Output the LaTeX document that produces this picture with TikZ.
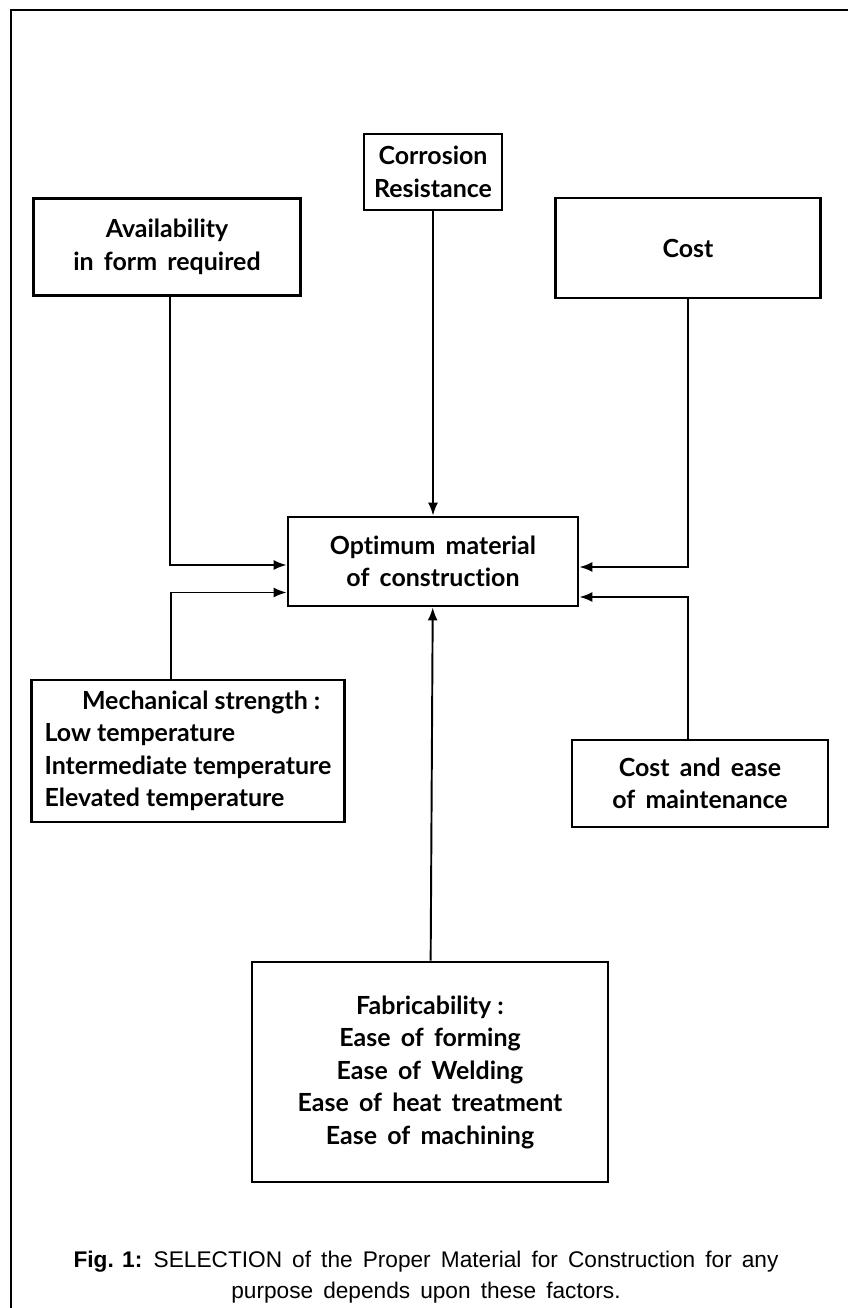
\documentclass[tikz,border=0pt]{standalone}
\usepackage{fontspec}
\usetikzlibrary{arrows.meta}
\newfontfamily\boxfont{Lato}[Ligatures={NoCommon}]
\newfontfamily\capfont{Liberation Sans}

\begin{document}
\begin{tikzpicture}[x=0.02cm,y=-0.02cm,
        box/.style={draw, line width=1.6pt, inner sep=0pt, align=center,
          font=\boxfont\bfseries\fontsize{14.2}{18.5}\selectfont},
        arr/.style={line width=1.1pt, -{Latex[length=0.26cm,width=0.2cm]}}]
        \useasboundingbox (0,0) rectangle (848,1308);
        % frame
        \draw [line width=1.5pt] (11,1308) -- (11,10) -- (848,10);
        % factors
        \node [box, minimum width=2.76cm, minimum height=1.52cm] (cor) at (433,172) {Corrosion\\Resistance};
        \node [box, minimum width=5.34cm, minimum height=1.94cm] (avail) at (167,247) {Availability\\in\, form\, required};
        \node [box, minimum width=5.3cm, minimum height=2cm] (cost) at (688,248) {Cost};
        \node [box, minimum width=5.8cm, minimum height=1.78cm] (opt) at (433,561.5) {Optimum\, material\\of\, construction};
        \node [box, minimum width=6.26cm, minimum height=2.84cm, align=left] (mech) at (188,751)
          {\hspace*{1.5em}Mechanical strength :\\Low temperature\\Intermediate temperature\\Elevated temperature};
        \node [box, minimum width=5.12cm, minimum height=1.74cm] (ease) at (700,783.5) {Cost\, and\, ease\\of\, maintenance};
        \node [box, minimum width=7.12cm, minimum height=4.4cm] (fab) at (430,1072)
          {Fabricability :\\Ease\, of\, forming\\Ease\, of\, Welding\\Ease\, of\, heat\, treatment\\Ease\, of\, machining};
        % connectors
        \draw [arr] (cor) -- (opt);
        \draw [arr] (fab) -- (opt);
        \draw [arr] ([xshift=0.06cm]avail.south) |- ([yshift=-0.07cm]opt.west);
        \draw [arr] ([xshift=-0.34cm]mech.north) |- ([yshift=-0.62cm]opt.west);
        \draw [arr] (cost.south) |- ([yshift=-0.11cm]opt.east);
        \draw [arr] ([xshift=-0.24cm]ease.north) |- ([yshift=-0.71cm]opt.east);
        % caption
        \node [font=\capfont\fontsize{12.9}{15}\selectfont, align=center] (cap) at (426,1277)
          {{\bfseries Fig. 1:}\enspace SELECTION\, of\, the\, Proper\, Material\, for\, Construction\, for\, any\\[3pt]
           purpose\, depends\, upon\, these\, factors.};
\end{tikzpicture}
\end{document}
